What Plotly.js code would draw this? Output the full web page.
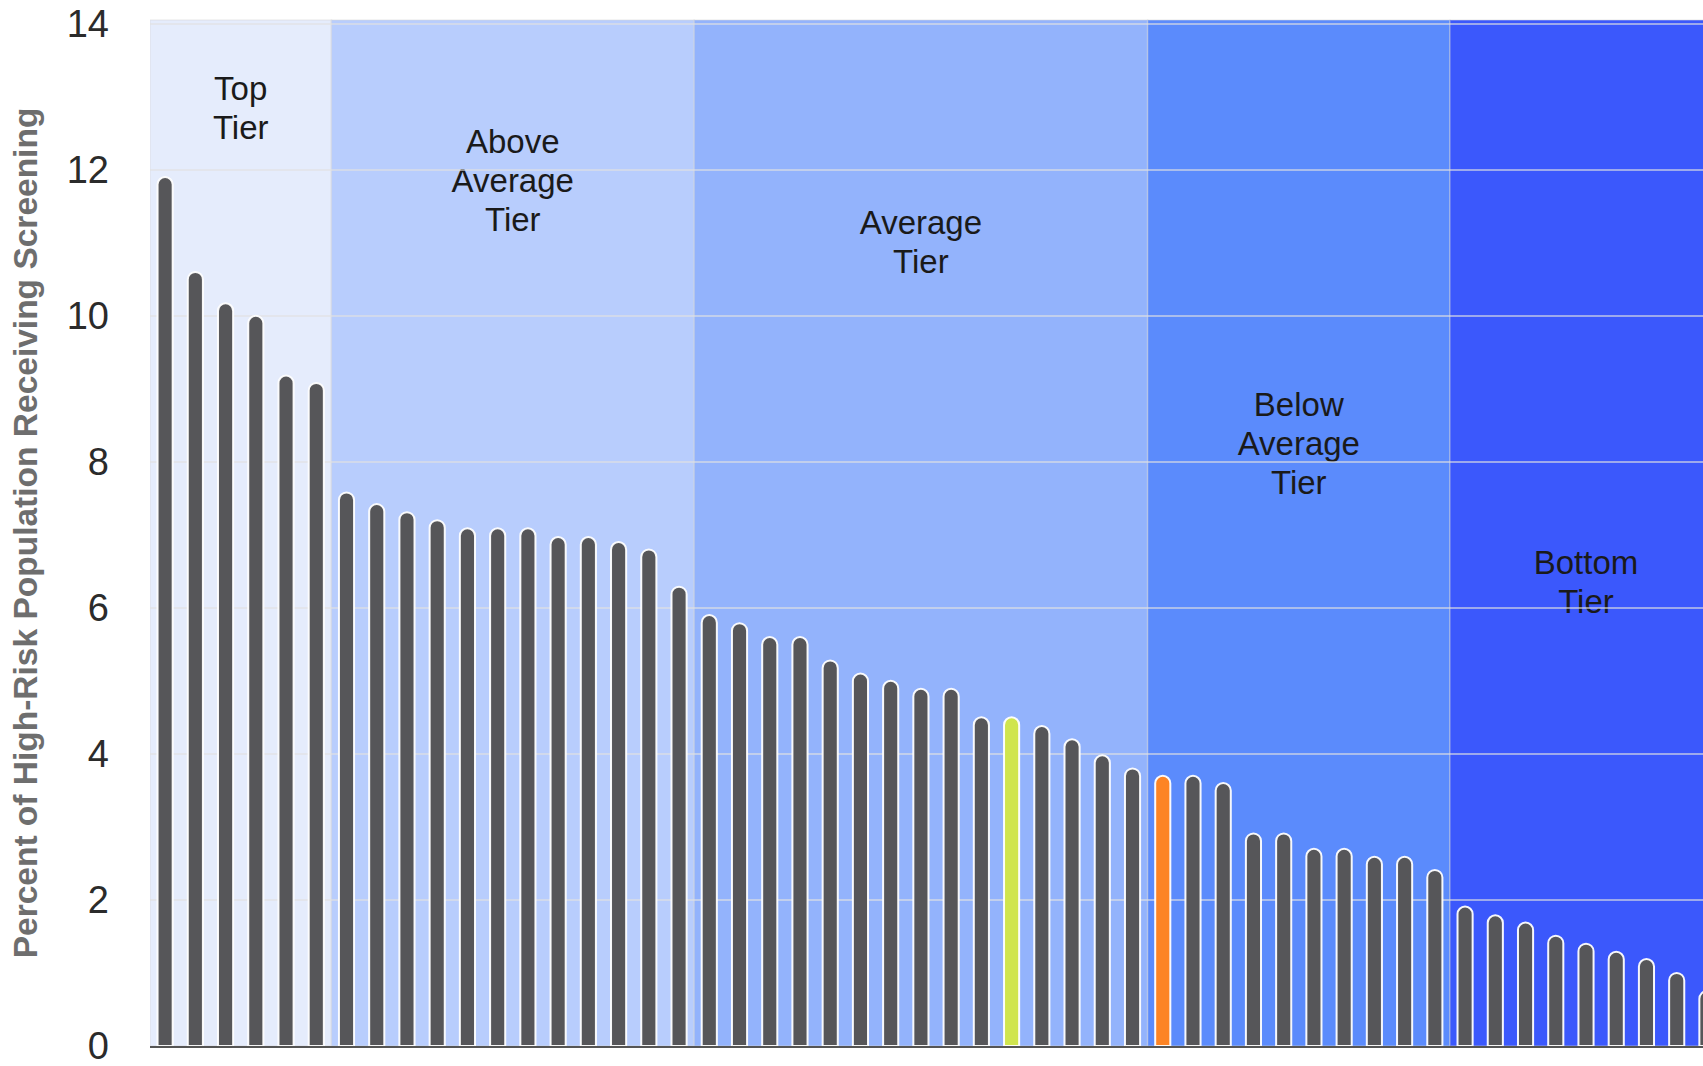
<!DOCTYPE html>
<html>
<head>
<meta charset="utf-8">
<script src="https://cdn.plot.ly/plotly-3.0.1.min.js"></script>
<style>
  html, body { margin: 0; padding: 0; background: #ffffff; overflow: hidden; }
  #chart { width: 1703px; height: 1066px; }
</style>
</head>
<body>
<div id="chart"></div>
<script>
// ---- Data ----
const ranks = [1,2,3,4,5,6,7,8,9,10,11,12,13,14,15,16,17,18,19,20,21,22,23,24,25,26,
               27,28,29,30,31,32,33,34,35,36,37,38,39,40,41,42,43,44,45,46,47,48,49,50,51,52];
const screeningPct = [
  11.9, 10.6, 10.17, 10.0, 9.18, 9.08,
  7.58, 7.42, 7.31, 7.2, 7.09, 7.09, 7.09, 6.97, 6.97, 6.9, 6.8, 6.29,
  5.9, 5.79, 5.6, 5.6, 5.28, 5.1, 5.0, 4.89, 4.89, 4.5, 4.5, 4.38, 4.2, 3.98, 3.8,
  3.7, 3.7, 3.6, 2.91, 2.91, 2.7, 2.7, 2.59, 2.59, 2.41,
  1.91, 1.79, 1.69, 1.51, 1.4, 1.29, 1.19, 1.0, 0.75
];
const highlightYellowRank = 29;
const highlightOrangeRank = 34;

const tierNames = ["Top<br>Tier", "Above<br>Average<br>Tier", "Average<br>Tier", "Below<br>Average<br>Tier", "Bottom<br>Tier"];
const tierCounts = [6, 12, 15, 10, 9];

const yTickVals = [0, 2, 4, 6, 8, 10, 12, 14];
const yTickText = ["0", "2", "4", "6", "8", "10", "12", "14"];

// ---- Styles / layout settings ----
const tierColors = ["#e5ecfc", "#b8cdfd", "#93b3fc", "#5b8bfc", "#3b58fc"];
const tierLabelCenter = [12.88, 11.89, 11.05, 8.29, 6.39];
const labelLineStep = 0.534;   // vertical distance between label lines (axis units)
const barGray = "#565659";
const yellow = "#d0e54e";
const orange = "#fd8424";
const fontFamily = "Arial, 'Liberation Sans', sans-serif";

const barColors = ranks.map(r => r === highlightYellowRank ? yellow : (r === highlightOrangeRank ? orange : barGray));

const shapes = [];
let start = 0.5;
tierCounts.forEach((n, i) => {
  const end = start + n;
  shapes.push({
    type: "rect", layer: "below", xref: "x", yref: "paper",
    x0: start, x1: end, y0: 0, y1: 1,
    fillcolor: tierColors[i],
    line: { color: "rgba(215,215,215,0.4)", width: 1.5 }
  });
  const lines = tierNames[i].split("<br>");
  lines.forEach((txt, k) => {
    const yc = tierLabelCenter[i] + ((lines.length - 1) / 2 - k) * labelLineStep;
    shapes.push({
      type: "rect", layer: "below", xref: "x", yref: "y",
      x0: start, x1: end, y0: yc - 0.2, y1: yc + 0.2,
      fillcolor: "rgba(0,0,0,0)",
      line: { width: 0 },
      label: {
        text: txt,
        textposition: "middle center",
        font: { family: fontFamily, size: 33, color: "#1a1a1a" }
      }
    });
  });
  start = end;
});

const trace = {
  type: "bar",
  x: ranks,
  y: screeningPct,
  width: 0.5,
  marker: {
    color: barColors,
    cornerradius: "50%",
    line: { color: "rgba(255,255,255,0.95)", width: 2 }
  },
  hoverinfo: "y"
};

const layout = {
  width: 1703,
  height: 1066,
  margin: { l: 150, r: 0, t: 20, b: 20, pad: 0 },
  paper_bgcolor: "#ffffff",
  plot_bgcolor: "#ffffff",
  showlegend: false,
  bargap: 0.5,
  xaxis: {
    range: [0.5, 51.87],
    showticklabels: false,
    showgrid: false,
    zeroline: false,
    showline: true,
    linecolor: "#555555",
    linewidth: 2,
    ticks: "",
    fixedrange: true
  },
  yaxis: {
    range: [-0.001, 14.05],
    tickmode: "array",
    tickvals: yTickVals,
    ticktext: yTickText,
    ticks: "",
    ticklabelstandoff: 40,
    ticklabeloverflow: "allow",
    tickfont: { family: fontFamily, size: 38, color: "#2b2b2b" },
    showgrid: true,
    gridcolor: "rgba(225,225,225,0.6)",
    gridwidth: 2,
    zeroline: false,
    showline: false,
    automargin: false,
    title: {
      text: "Percent of High-Risk Population Receiving Screening",
      font: { family: fontFamily, size: 33.5, color: "#6e6e6e", weight: "bold" },
      standoff: 18
    },
    fixedrange: true
  },
  shapes: shapes
};

Plotly.newPlot("chart", [trace], layout, { displayModeBar: false, staticPlot: true });
</script>
</body>
</html>
